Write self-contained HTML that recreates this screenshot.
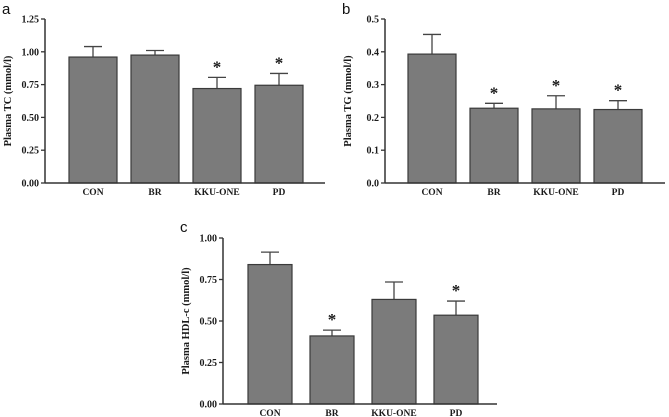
<!DOCTYPE html>
<html><head><meta charset="utf-8"><style>
html,body{margin:0;padding:0;background:#fff;}
svg{display:block;}
text{font-family:"Liberation Serif",serif;font-weight:bold;fill:#1a1a1a;}
.lt{font-family:"Liberation Sans",sans-serif;font-weight:normal;font-size:15px;fill:#111;}
</style></head><body>
<svg id="fig" width="669" height="417" viewBox="0 0 669 417"></svg>
<script>
const categories = ["CON","BR","KKU-ONE","PD"];
const tcValues = [0.96, 0.975, 0.72, 0.745];
const tcErrors = [0.08, 0.035, 0.085, 0.09];
const tcSig = [false, false, true, true];
const tcTicks = [0, 0.25, 0.5, 0.75, 1.0, 1.25];
const tcTickLabels = ["0.00","0.25","0.50","0.75","1.00","1.25"];
const tgValues = [0.393, 0.228, 0.226, 0.224];
const tgErrors = [0.06, 0.015, 0.04, 0.027];
const tgSig = [false, true, true, true];
const tgTicks = [0, 0.1, 0.2, 0.3, 0.4, 0.5];
const tgTickLabels = ["0.0","0.1","0.2","0.3","0.4","0.5"];
const hdlValues = [0.84, 0.41, 0.63, 0.535];
const hdlErrors = [0.075, 0.035, 0.105, 0.085];
const hdlSig = [false, true, false, true];
const hdlTicks = [0, 0.25, 0.5, 0.75, 1.0];
const hdlTickLabels = ["0.00","0.25","0.50","0.75","1.00"];

const NS = "http://www.w3.org/2000/svg";
const svg = document.getElementById("fig");
function mk(tag, attrs, parent){
  const e = document.createElementNS(NS, tag);
  for (const k in attrs) e.setAttribute(k, attrs[k]);
  (parent||svg).appendChild(e);
  return e;
}
function panel(id, letter, lx, ly, ax, x0, step, barW, yZero, yTop, yMax, axisEnd, title, vals, errs, sig, ticks, tickLabels){
  const g = mk("g", {});
  
  
  const y = v => yZero - (v / yMax) * (yZero - yTop);
  const xc = i => x0 + i * step;
  const L = mk("text", {x: lx, y: ly, class: "lt"}, g);
  L.textContent = letter;
  
  
  vals.forEach((v, i) => {
    const top = y(v), et = y(v + errs[i]);
    const eb = mk("line", {x1: xc(i), x2: xc(i), y1: top, y2: et, stroke: "#444", "stroke-width": 1.3}, g);
    
    
    const cap = mk("line", {x1: xc(i) - 9, x2: xc(i) + 9, y1: et, y2: et, stroke: "#444", "stroke-width": 1.3}, g);
    
    
    const r = mk("rect", {x: xc(i) - barW / 2, y: top, width: barW, height: yZero - top, fill: "#7b7b7b", stroke: "#3a3a3a", "stroke-width": 1.2}, g);
    
    
    if (sig[i]) {
      const s = mk("text", {x: xc(i), y: et - 5, "text-anchor": "middle", "font-size": 17}, g);
      s.textContent = "*";
      
      
    }
    const t = mk("text", {x: xc(i), y: yZero + 12, "text-anchor": "middle", "font-size": 9.5}, g);
    t.textContent = categories[i];
    
    
  });
  const ya = mk("line", {x1: ax, x2: ax, y1: yTop, y2: yZero, stroke: "#333", "stroke-width": 1.5}, g);
  
  
  const xa = mk("line", {x1: ax, x2: axisEnd, y1: yZero, y2: yZero, stroke: "#333", "stroke-width": 1.5}, g);
  
  
  ticks.forEach((tv, i) => {
    const ty = y(tv);
    const tk = mk("line", {x1: ax - 4, x2: ax, y1: ty, y2: ty, stroke: "#333", "stroke-width": 1.3}, g);
    
    
    const tl = mk("text", {x: ax - 6, y: ty + 3.5, "text-anchor": "end", "font-size": 10}, g);
    tl.textContent = tickLabels[i];
    
    
  });
  const cy = (yTop + yZero) / 2;
  const tt = mk("text", {x: ax - 34, y: cy, "text-anchor": "middle", "font-size": 10.5, transform: "rotate(-90 " + (ax - 34) + " " + cy + ")"}, g);
  tt.textContent = title;
  
  
}
panel("tc", "a", 2, 14, 45, 93, 62, 48, 183, 19, 1.25, 325, "Plasma TC (mmol/l)", tcValues, tcErrors, tcSig, tcTicks, tcTickLabels);
panel("tg", "b", 342, 14, 385, 432, 62, 48, 183, 19, 0.5, 665, "Plasma TG (mmol/l)", tgValues, tgErrors, tgSig, tgTicks, tgTickLabels);
panel("hdl", "c", 180, 232, 223, 270, 62, 44, 404, 238, 1.0, 497, "Plasma HDL-c (mmol/l)", hdlValues, hdlErrors, hdlSig, hdlTicks, hdlTickLabels);
</script>
</body></html>
